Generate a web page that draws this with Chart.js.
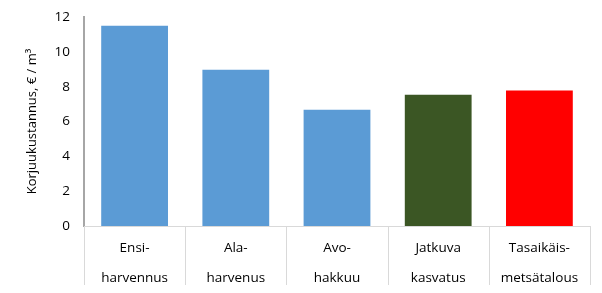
<!DOCTYPE html>
<html>
<head>
<meta charset="utf-8">
<script src="https://cdn.jsdelivr.net/npm/chart.js@4/dist/chart.umd.min.js"></script>
<style>
html,body{margin:0;padding:0;background:#fff;}
#wrap{width:602px;height:293px;}
</style>
</head>
<body>
<div id="wrap"><canvas id="chart" width="602" height="293"></canvas></div>
<script>
// data
const categories=[['Ensi-','harvennus'],['Ala-','harvenus'],['Avo-','hakkuu'],['Jatkuva','kasvatus'],['Tasaikäis-','metsätalous']]
const costs=[11.5,8.97,6.67,7.53,7.78]
const barColors=['#5b9bd5','#5b9bd5','#5b9bd5','#3b5624','#ff0000']
const yTicks=[0,2,4,6,8,10,12]
const yTitle='Korjuukustannus, € / m³'

const lineGray='#d9d9d9'

// vertical separators under the x axis, between categories
const separators={
  id:'separators',
  afterDraw(chart){
    const x=chart.scales.x
    const ctx=chart.ctx
    const n=categories.length
    const step=(x.right-x.left)/n
    ctx.save()
    ctx.strokeStyle=lineGray
    ctx.lineWidth=1
    for(let i=0;i<=n;i++){
      const px=Math.round(x.left+i*step)+0.5
      ctx.beginPath()
      ctx.moveTo(px,x.top)
      ctx.lineTo(px,x.top+59)
      ctx.stroke()
    }
    ctx.restore()
  }
}

const ctx=document.getElementById('chart').getContext('2d')
new Chart(ctx,{
  type:'bar',
  data:{
    labels:categories,
    datasets:[{
      data:costs,
      backgroundColor:barColors,
      borderWidth:0,
      barPercentage:0.66,
      categoryPercentage:1
    }]
  },
  options:{
    responsive:false,
    animation:false,
    layout:{padding:{top:17,right:12,left:0,bottom:0}},
    plugins:{legend:{display:false},tooltip:{enabled:false}},
    scales:{
      x:{
        grid:{display:false,drawTicks:false},
        border:{display:true,color:lineGray,width:1},
        ticks:{
          color:'#000',
          font:{family:'Open Sans',size:13.5,lineHeight:2.25},
          padding:7,
          autoSkip:false,
          maxRotation:0
        },
        afterFit(scale){
          scale.height=67
          scale.paddingTop=0
          scale.paddingLeft=0
          scale.paddingRight=0
        }
      },
      y:{
        min:0,max:12,
        grid:{display:false,drawTicks:false},
        border:{display:true,color:'#a6a6a6',width:2},
        afterBuildTicks(scale){scale.ticks=yTicks.map(v=>({value:v}))},
        ticks:{
          color:'#000',
          font:{family:'Open Sans',size:13.5},
          padding:14
        },
        title:{
          display:true,
          text:yTitle,
          color:'#000',
          font:{family:'Open Sans',size:13},
          padding:{top:24,bottom:0}
        },
        afterFit(scale){
          scale.width=84
          scale.paddingTop=0
          scale.paddingBottom=0
        }
      }
    }
  },
  plugins:[separators]
})
</script>
</body>
</html>
